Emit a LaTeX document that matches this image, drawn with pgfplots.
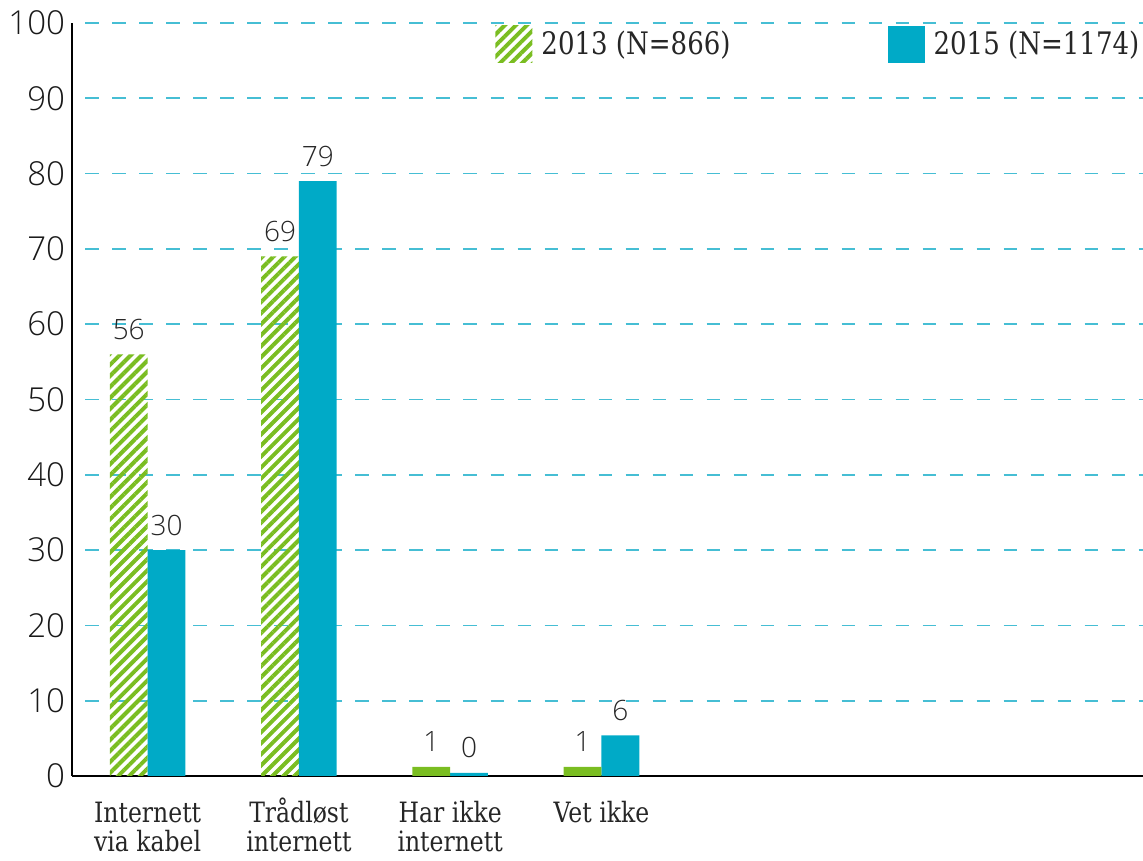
\documentclass[border=0pt]{standalone}
\usepackage{pgfplots}
\pgfplotsset{compat=1.18}
\usetikzlibrary{patterns.meta}
\usepackage{fontspec}
\setmainfont{DejaVu Serif}[FakeStretch=0.84]
\newfontfamily\numfont{Open Sans}[UprightFont=* Light]
\definecolor{cgreen}{RGB}{122,189,33}
\definecolor{ccyan}{RGB}{0,170,199}
\definecolor{cgrid}{RGB}{70,190,212}
\begin{document}
\begin{tikzpicture}
\begin{axis}[name=ax, scale only axis, width=535.5pt, height=376.5pt,
  xmin=-0.5, xmax=6.58, ymin=0, ymax=100,
  axis x line*=bottom, axis y line*=left,
  axis line style={-, line width=0.8pt, black},
  ytick={0,10,...,100}, xtick={0,1,2,3},
  xticklabels={{\vphantom{Å}Internett\\via kabel},{\vphantom{Å}Trådløst\\internett},{\vphantom{Å}Har ikke\\internett},{\vphantom{Å}Vet ikke}},
  xticklabel style={align=center, font=\fontsize{14}{14.8}\selectfont, text=black!85, inner sep=0pt, yshift=-10pt},
  /pgf/number format/assume math mode=true,
  yticklabel style={font=\numfont\fontsize{16.5}{19}\selectfont, text=black!90},
  major tick length=0pt,
  ymajorgrids, grid style={cgrid, line width=0.85pt, dash pattern=on 6.75pt off 6.75pt, dash phase=6.75pt},
  legend style={at={(0.395,0.997)}, anchor=north west, draw=none, fill=none,
    legend columns=2, font=\fontsize{15.5}{19}\selectfont, text=black!85,
    /tikz/every even column/.append style={column sep=76pt},
    /tikz/every odd column/.append style={column sep=2pt},
    inner sep=0pt, nodes={inner sep=2.5pt}},
  legend cell align=left,
  legend image code/.code={\path[#1, draw=none] (0pt,-9.25pt) rectangle (18.5pt,9.25pt);},
  nodes near coords, point meta=explicit symbolic,
  nodes near coords style={anchor=base, yshift=7.5pt, font=\numfont\fontsize{14}{16}\selectfont, text=black!85},
]
\addplot[ybar, bar width=0.25, bar shift=-0.125, draw=none,
  pattern={Lines[angle=45,distance=3.9pt,line width=2pt]}, pattern color=cgreen,
  nodes near coords style={xshift=-9.45pt}]
  coordinates {(0,56) [56] (1,69) [69]};
\addlegendentry{2013 (N=866)}
\addplot[ybar, bar width=0.25, bar shift=0.125, draw=none, fill=ccyan,
  nodes near coords style={xshift=9.45pt}]
  coordinates {(0,30) [30] (1,79) [79] (2,0.4) [0] (3,5.4) [6]};
\addlegendentry{2015 (N=1174)}
\addplot[ybar, bar width=0.25, bar shift=-0.125, draw=none, fill=cgreen, forget plot,
  nodes near coords style={xshift=-9.45pt}]
  coordinates {(2,1.2) [1] (3,1.2) [1]};
\end{axis}
\pgfresetboundingbox
\path[use as bounding box] ([xshift=-36pt,yshift=-42.5pt]ax.south west) rectangle ([yshift=11.5pt]ax.north east);
\end{tikzpicture}
\end{document}
